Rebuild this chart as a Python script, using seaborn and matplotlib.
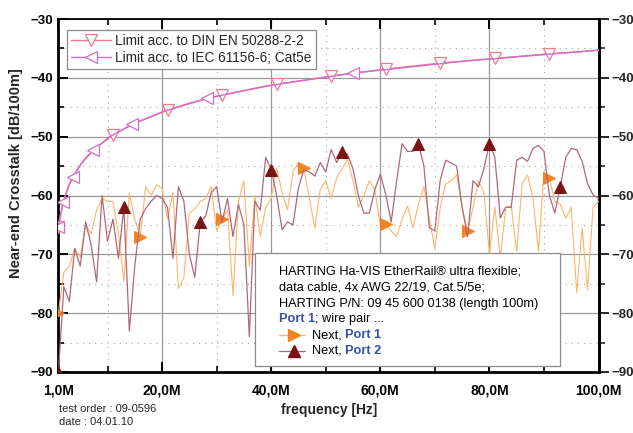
import numpy as np
import pandas as pd
import matplotlib
matplotlib.use("Agg")
import matplotlib.pyplot as plt
import seaborn as sns
from matplotlib.lines import Line2D
from matplotlib.patches import Rectangle

# ---------------- data ----------------
freq_mhz = list(range(1, 101))

next_port1 = [
    -80, -73, -72, -69, -70.5, -65, -66.5, -62.5, -60.5, -61,
    -61, -66.5, -74.5, -59.6, -64, -67, -58.5, -60, -58.2, -58.8,
    -64, -59.5, -75.8, -74, -63, -62.3, -61, -60.5, -58.5, -66,
    -64, -62.5, -77, -61, -57.5, -72, -60, -67, -62, -60.5,
    -55.3, -59.5, -62.4, -56, -54.4, -55.4, -60.5, -65.5, -59, -57.5,
    -60.5, -57, -55.5, -53.8, -57.5, -62, -60, -57.5, -59, -65,
    -64.8, -66, -67, -64, -61.8, -65.5, -61.5, -58.5, -64, -69,
    -62, -58, -57.5, -56.5, -62, -66, -62, -57.5, -59.5, -70,
    -62, -70.5, -62, -61.8, -69.5, -58, -56.5, -60.5, -69.5, -56,
    -57, -61, -61.5, -63.9, -62, -76.5, -65.6, -76, -62, -61,
]

next_port2 = [
    -90, -75.5, -78, -69, -72, -64.5, -68.4, -74.7, -60, -67.8,
    -64, -70.7, -62, -83, -72, -64, -62.2, -61, -60, -60.5,
    -62, -70.7, -58.5, -61, -70, -73.9, -64.5, -63.5, -59.5, -58.5,
    -64.5, -60.5, -67, -61.5, -65, -84, -61, -62.5, -53.5, -55.6,
    -60, -65.8, -64.5, -65, -58.7, -55.6, -56, -56.7, -54.4, -56,
    -52.2, -54.4, -52.6, -53, -55.5, -60.1, -63, -63, -59, -56.4,
    -59.8, -64.5, -57.5, -51.2, -52.5, -52.5, -51.2, -55, -65.5, -66,
    -57.3, -54, -54.5, -55, -62, -67, -57.5, -58.5, -55.4, -51.2,
    -53.5, -63.8, -62, -62, -54, -53.5, -54.2, -52, -51.5, -52.5,
    -60, -63, -58.5, -53.5, -52, -52.2, -54.2, -58, -59.9, -60.5,
]

din_freq = [1, 2, 3, 4, 5, 6, 8, 11, 15, 21, 25, 31, 36, 41, 46, 51,
            56, 61, 66, 71, 76, 81, 86, 91, 96, 100]
din_limit = [-65.3, -60.8, -58.1, -56.3, -54.8, -53.6, -51.8, -49.7, -47.7,
             -45.5, -44.3, -42.9, -42.0, -41.1, -40.4, -39.7, -39.1, -38.5,
             -38.0, -37.5, -37.1, -36.7, -36.3, -35.9, -35.6, -35.3]

iec_freq = [1, 1.3, 1.9, 2.7, 3.7, 5.2, 7.4, 10.4, 14.5, 20, 28.2, 39, 55, 75, 100]
iec_limit = [-65.3, -63.6, -61.1, -58.8, -56.8, -54.6, -52.3, -50.0, -47.9,
             -45.8, -43.5, -41.4, -39.2, -37.2, -35.3]

port1_marks = [0, 15, 30, 45, 60, 75, 90]
port2_marks = [0, 12, 26, 39, 52, 66, 79, 92]
din_marks = [0, 7, 9, 11, 13, 15, 17, 19, 21, 23]
iec_marks = [0, 2, 4, 6, 8, 10, 12]

x_ticks = [1, 20, 40, 60, 80, 100]
x_ticklabels = ["1,0M", "20,0M", "40,0M", "60,0M", "80,0M", "100,0M"]
x_minor = [10, 30, 50, 70, 90]
y_ticks = [-90, -80, -70, -60, -50, -40, -30]
y_minor = [-85, -75, -65, -55, -45, -35]

label_din = "Limit acc. to DIN EN 50288-2-2"
label_iec = "Limit acc. to IEC 61156-6; Cat5e"
info_lines = ["HARTING Ha-VIS EtherRail\u00ae ultra flexible;",
              "data cable, 4x AWG 22/19, Cat.5/5e;",
              "HARTING P/N: 09 45 600 0138 (length 100m)"]

# ---------------- style ----------------
sns.set_theme(style="white")
plt.rcParams["font.family"] = ["Liberation Sans", "DejaVu Sans"]

C_P1 = "#FFB46A"
C_P1M = "#F5841F"
C_P2 = "#B06878"
C_P2M = "#7A1414"
C_DIN = "#F27A8A"
C_IEC = "#D46CC8"
C_BLUE = "#3550B0"

W, H = 633, 433
fig = plt.figure(figsize=(W / 100, H / 100), dpi=100)
ax = fig.add_axes([58.4 / W, 1 - 372 / H, (598.5 - 58.4) / W, (372 - 19) / H])
ax.set_facecolor("white")

def fx(x):
    return x / W

def fy(y):
    return 1 - y / H

# ---------------- measured curves ----------------
sns.lineplot(x=freq_mhz, y=next_port1, ax=ax, color=C_P1, lw=0.8, sort=False,
             marker=">", markevery=port1_marks, markersize=8,
             markerfacecolor=C_P1M, markeredgecolor=C_P1M, zorder=3)
sns.lineplot(x=freq_mhz, y=next_port2, ax=ax, color=C_P2, lw=0.9, sort=False,
             marker="^", markevery=port2_marks, markersize=8,
             markerfacecolor=C_P2M, markeredgecolor=C_P2M, zorder=3)

# ---------------- limit curves ----------------
sns.lineplot(x=din_freq, y=din_limit, ax=ax, color=C_DIN, lw=1.0, sort=False,
             marker="v", markevery=din_marks, markersize=9,
             markerfacecolor="white", markeredgecolor=C_DIN,
             markeredgewidth=0.9, zorder=4, label=label_din)
sns.lineplot(x=iec_freq, y=iec_limit, ax=ax, color=C_IEC, lw=1.0, sort=False,
             marker="<", markevery=iec_marks, markersize=9,
             markerfacecolor="white", markeredgecolor=C_IEC,
             markeredgewidth=0.9, zorder=4, label=label_iec)
line_din = ax.lines[2]
line_iec = ax.lines[3]

# ---------------- axes ----------------
ax.set_xlim(1, 100)
ax.set_ylim(-90, -30)
ax.set_xticks(x_ticks)
ax.set_xticklabels(x_ticklabels)
ax.set_xticks(x_minor, minor=True)
ax.set_yticks(y_ticks)
ax.set_yticks(y_minor, minor=True)
ax.grid(which="major", color="#9a9a9a", lw=0.9, ls="-", zorder=0)
ax.grid(which="minor", color="#a8a8a8", lw=0.8, ls=(0, (1, 4.5)), zorder=0)
ax.set_axisbelow(True)

ax.tick_params(axis="both", which="major", direction="in", length=7, width=1.4,
               color="black", top=True, bottom=True, left=True, right=False,
               labelsize=10, labelcolor="black")
ax.tick_params(axis="both", which="minor", direction="in", length=4, width=1.2,
               color="black", top=True, bottom=True, left=True, right=False)
ax.tick_params(axis="x", which="major", pad=8)
ax.tick_params(axis="y", which="major", pad=4, labelsize=9.5)
for lab in ax.get_xticklabels() + ax.get_yticklabels():
    lab.set_fontweight("bold")

for side in ["left", "bottom", "right"]:
    ax.spines[side].set_linewidth(2.0)
    ax.spines[side].set_color("black")
ax.spines["top"].set_linewidth(1.3)
ax.spines["top"].set_color("black")

sec = ax.secondary_yaxis("right")
sec.set_yticks(y_ticks)
sec.set_yticks(y_minor, minor=True)
sec.tick_params(which="major", direction="out", length=7, width=1.4, pad=2,
                labelsize=9.5)
sec.tick_params(which="minor", direction="out", length=4, width=1.2)
sec.spines["right"].set_linewidth(2.0)
for lab in sec.get_yticklabels():
    lab.set_fontweight("bold")

ax.set_xlabel("frequency [Hz]", fontsize=10, fontweight="bold")
ax.xaxis.set_label_coords((329 - 58.4) / 540, (372 - 403) / 353)
ax.set_ylabel("Near-end Crosstalk [dB/100m]", fontsize=10.5, fontweight="bold")
ax.yaxis.label.set_verticalalignment("center")
ax.yaxis.set_label_coords((16 - 58.4) / 540, (372 - 173) / 353)

# ---------------- legend for limits ----------------
leg = ax.legend(handles=[line_din, line_iec], labels=[label_din, label_iec],
                loc="upper left", bbox_to_anchor=(fx(67), fy(30)),
                bbox_transform=fig.transFigure, borderaxespad=0,
                fontsize=9.8, frameon=True, fancybox=False, edgecolor="#8a8a8a",
                framealpha=1, borderpad=0.3, labelspacing=0.22,
                handlelength=2.9, handletextpad=0.35)
leg.get_frame().set_linewidth(0.9)

# ---------------- info box ----------------
ax.add_patch(Rectangle((fx(255), fy(366)), fx(560) - fx(255), fy(253) - fy(366),
                       transform=fig.transFigure, facecolor="white",
                       edgecolor="#8a8a8a", lw=0.9, zorder=10, clip_on=False))
FS = 9.2
ys = [272, 288, 303.5]
for line, yy in zip(info_lines, ys):
    ax.text(fx(279), fy(yy), line, transform=fig.transFigure, fontsize=FS,
            va="center", ha="left", color="black", zorder=11)

t = ax.text(fx(279), fy(319), "Port 1", transform=fig.transFigure, fontsize=FS,
            fontweight="bold", color=C_BLUE, va="center", ha="left", zorder=11)
ax.annotate("; wire pair ...", xy=(1, 0), xycoords=t, va="bottom", ha="left",
            fontsize=FS, color="black", zorder=11)

for yy, col, mcol, mk, name in [(335, C_P1, C_P1M, ">", "Port 1"),
                                (350.5, C_P2, C_P2M, "^", "Port 2")]:
    ax.add_line(Line2D([fx(279), fx(294), fx(305)], [fy(yy)] * 3,
                       transform=fig.transFigure, color=col, lw=0.9,
                       marker=mk, markevery=[1], markersize=8,
                       markerfacecolor=mcol, markeredgecolor=mcol,
                       zorder=11, clip_on=False))
    tn = ax.text(fx(312), fy(yy), "Next, ", transform=fig.transFigure,
                 fontsize=FS, va="center", ha="left", color="black", zorder=11)
    ax.annotate(name, xy=(1, 0), xycoords=tn, va="bottom", ha="left",
                fontsize=FS, fontweight="bold", color=C_BLUE, zorder=11)

# ---------------- footnotes ----------------
fig.text(fx(59), fy(409), "test order : 09-0596", fontsize=8, va="center", ha="left")
fig.text(fx(59), fy(422), "date : 04.01.10", fontsize=8, va="center", ha="left")

fig.savefig("out.png", dpi=100)
